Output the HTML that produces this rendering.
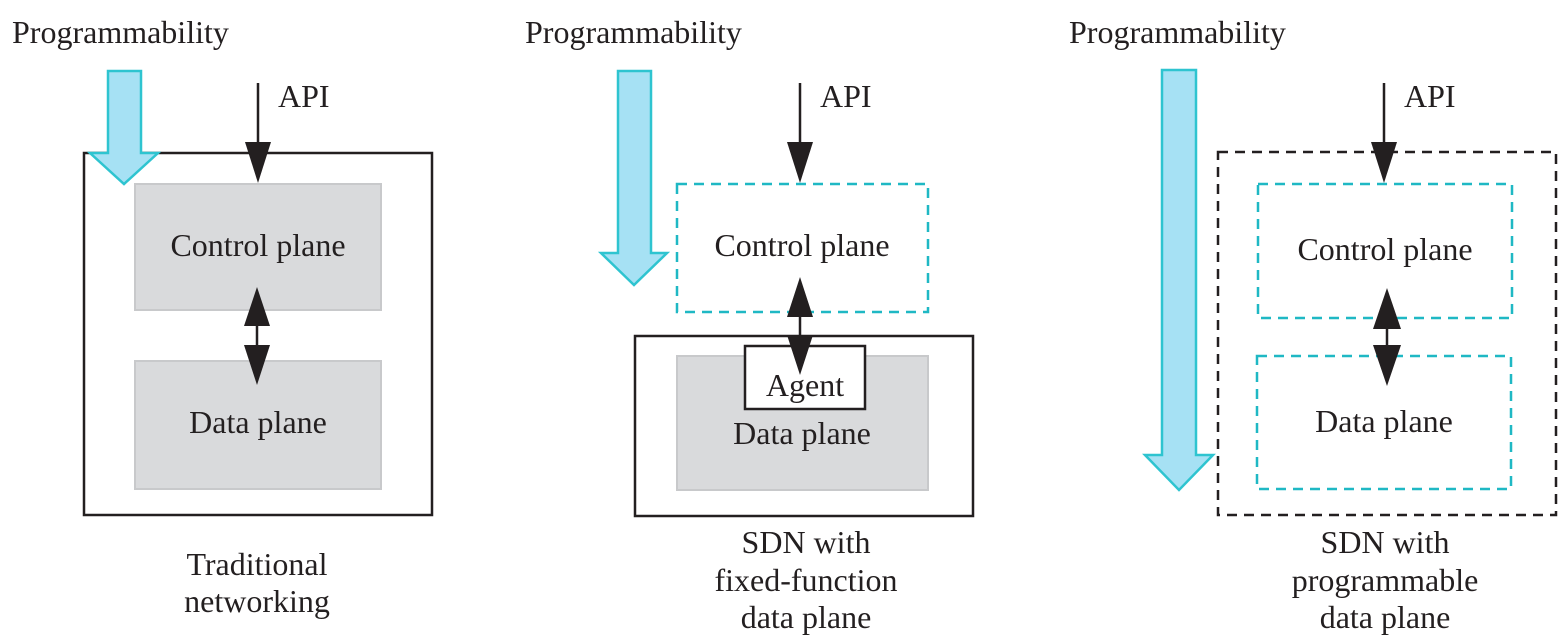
<!DOCTYPE html>
<html><head><meta charset="utf-8"><style>
html,body{margin:0;padding:0;background:#fff;}
svg{display:block;}
text{font-family:"Liberation Serif",serif;font-size:32px;fill:#231f20;}
</style></head><body>
<svg width="1564" height="642" viewBox="0 0 1564 642" xmlns="http://www.w3.org/2000/svg">
<!-- Panel 1 -->
<text x="12" y="43">Programmability</text>
<rect x="84" y="153" width="348" height="362" fill="none" stroke="#231f20" stroke-width="2.5"/>
<polygon points="108,71 141,71 141,153 158,153 124,184 90,153 108,153" fill="#a6e1f4" stroke="#2ec4d0" stroke-width="2.5"/>
<rect x="135" y="184" width="246" height="126" fill="#d9dadc" stroke="#c8c9cb" stroke-width="2"/>
<rect x="135" y="361" width="246" height="128" fill="#d9dadc" stroke="#c8c9cb" stroke-width="2"/>
<text x="258" y="256" text-anchor="middle">Control plane</text>
<text x="258" y="433" text-anchor="middle">Data plane</text>
<line x1="258" y1="83" x2="258" y2="150" stroke="#231f20" stroke-width="2.5"/>
<polygon points="245,142 271,142 258,183" fill="#231f20"/>
<text x="278" y="107">API</text>
<line x1="257" y1="310" x2="257" y2="360" stroke="#231f20" stroke-width="2.5"/>
<polygon points="244,326 270,326 257,287" fill="#231f20"/>
<polygon points="244,345 270,345 257,385" fill="#231f20"/>
<text x="257" y="575" text-anchor="middle">Traditional</text>
<text x="257" y="612" text-anchor="middle">networking</text>

<!-- Panel 2 -->
<text x="525" y="43">Programmability</text>
<polygon points="618,71 651,71 651,253 667,253 634,285 601,253 618,253" fill="#a6e1f4" stroke="#2ec4d0" stroke-width="2.5"/>
<rect x="677" y="184" width="251" height="128" fill="none" stroke="#1fb8c4" stroke-width="2.5" stroke-dasharray="10,7"/>
<text x="802" y="256" text-anchor="middle">Control plane</text>
<line x1="800" y1="83" x2="800" y2="150" stroke="#231f20" stroke-width="2.5"/>
<polygon points="787,142 813,142 800,183" fill="#231f20"/>
<text x="820" y="107">API</text>
<rect x="635" y="336" width="338" height="180" fill="none" stroke="#231f20" stroke-width="2.5"/>
<rect x="677" y="356" width="251" height="134" fill="#d9dadc" stroke="#c8c9cb" stroke-width="2"/>
<rect x="745" y="346" width="120" height="63" fill="#fff" stroke="#231f20" stroke-width="2.5"/>
<text x="805" y="396" text-anchor="middle">Agent</text>
<text x="802" y="444" text-anchor="middle">Data plane</text>
<line x1="800" y1="300" x2="800" y2="360" stroke="#231f20" stroke-width="2.5"/>
<polygon points="787,317 813,317 800,277" fill="#231f20"/>
<polygon points="787,335 813,335 800,375" fill="#231f20"/>
<text x="806" y="553" text-anchor="middle">SDN with</text>
<text x="806" y="591" text-anchor="middle">fixed-function</text>
<text x="806" y="628" text-anchor="middle">data plane</text>

<!-- Panel 3 -->
<text x="1069" y="43">Programmability</text>
<polygon points="1162,70 1196,70 1196,455 1213,455 1179,490 1145,455 1162,455" fill="#a6e1f4" stroke="#2ec4d0" stroke-width="2.5"/>
<rect x="1218" y="152" width="338" height="363" fill="none" stroke="#231f20" stroke-width="2.5" stroke-dasharray="10,7"/>
<rect x="1258" y="184" width="254" height="134" fill="none" stroke="#1fb8c4" stroke-width="2.5" stroke-dasharray="10,7"/>
<rect x="1257" y="356" width="254" height="133" fill="none" stroke="#1fb8c4" stroke-width="2.5" stroke-dasharray="10,7"/>
<text x="1385" y="260" text-anchor="middle">Control plane</text>
<text x="1384" y="432" text-anchor="middle">Data plane</text>
<line x1="1384" y1="83" x2="1384" y2="150" stroke="#231f20" stroke-width="2.5"/>
<polygon points="1371,142 1397,142 1384,183" fill="#231f20"/>
<text x="1404" y="107">API</text>
<line x1="1387" y1="310" x2="1387" y2="360" stroke="#231f20" stroke-width="2.5"/>
<polygon points="1373,329 1401,329 1387,288" fill="#231f20"/>
<polygon points="1373,345 1401,345 1387,386" fill="#231f20"/>
<text x="1385" y="553" text-anchor="middle">SDN with</text>
<text x="1385" y="591" text-anchor="middle">programmable</text>
<text x="1385" y="628" text-anchor="middle">data plane</text>
</svg>
</body></html>
